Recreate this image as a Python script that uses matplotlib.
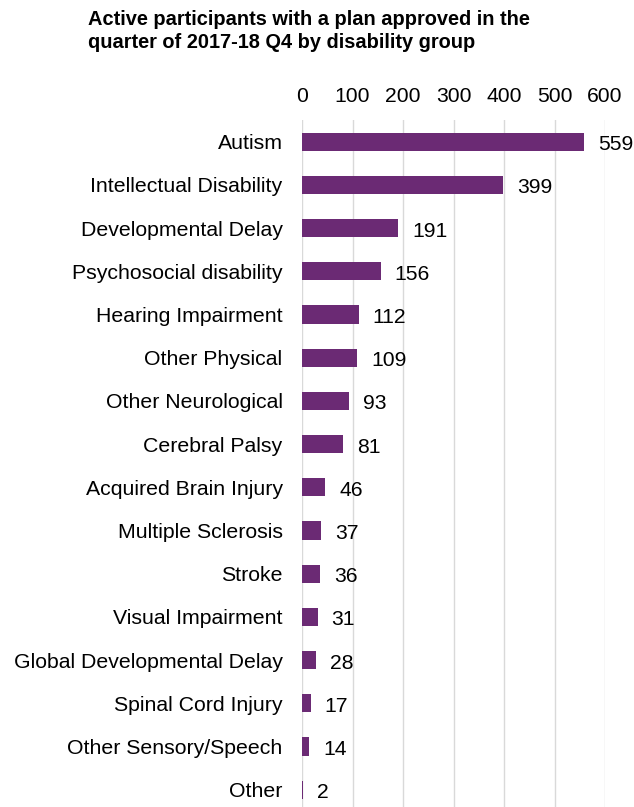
import matplotlib
matplotlib.use("Agg")
import matplotlib.pyplot as plt

categories = ["Autism", "Intellectual Disability", "Developmental Delay", "Psychosocial disability",
              "Hearing Impairment", "Other Physical", "Other Neurological", "Cerebral Palsy",
              "Acquired Brain Injury", "Multiple Sclerosis", "Stroke", "Visual Impairment",
              "Global Developmental Delay", "Spinal Cord Injury", "Other Sensory/Speech", "Other"]
values = [559, 399, 191, 156, 112, 109, 93, 81, 46, 37, 36, 31, 28, 17, 14, 2]
xticks = [0, 100, 200, 300, 400, 500, 600]
title = "Active participants with a plan approved in the\nquarter of 2017-18 Q4 by disability group"

plt.rcParams['font.family'] = ['Liberation Sans', 'DejaVu Sans']

fig = plt.figure(figsize=(6.34, 8.07), dpi=100)
ax = fig.add_axes([302/634, 0, 303/634, 1 - 120/807])

ypos = list(range(len(categories)))
ax.barh(ypos, values, height=0.42, color="#6B2A74", zorder=3)
for y, v in zip(ypos, values):
    ax.annotate(str(v), (v, y), xytext=(14, -3), textcoords="offset pixels",
                ha="left", va="center", fontsize=15.2, color="#000000")

ax.set_xlim(0, 600)
ax.set_ylim(15.4, -0.5)
ax.set_yticks(ypos)
ax.set_yticklabels(categories, fontsize=15.3)
ax.set_xticks(xticks)
ax.set_xticklabels([str(t) for t in xticks], fontsize=15.2)
ax.xaxis.tick_top()
ax.tick_params(axis="x", length=0, pad=10)
ax.tick_params(axis="y", length=0, pad=14)
ax.grid(axis="x", color="#D9D9D9", linewidth=1, zorder=0)
for s in ax.spines.values():
    s.set_visible(False)

fig.text(88/634, 1 - 10/807, title, fontsize=14.4, fontweight="bold", ha="left", va="top",
         linespacing=1.25)

fig.savefig("out.png", dpi=100)
